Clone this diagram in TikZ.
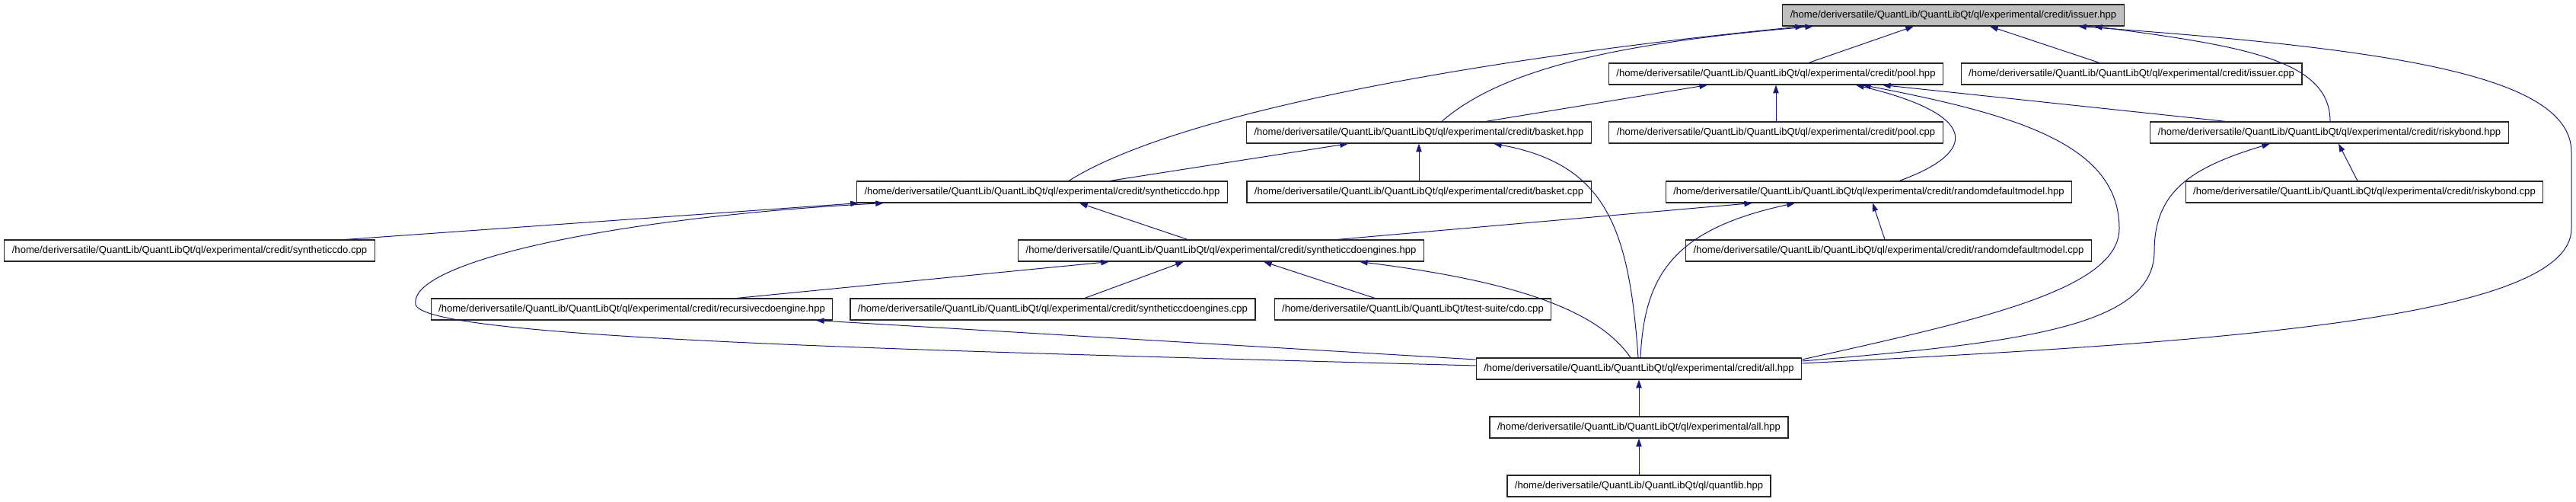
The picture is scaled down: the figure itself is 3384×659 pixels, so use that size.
\documentclass[tikz,border=0pt]{standalone}
\usepackage{fontspec}
\setmainfont{Liberation Sans}
\usepackage{tikz}
\usetikzlibrary{arrows.meta, calc}

\definecolor{edgeblue}{HTML}{191970}
\definecolor{curgray}{HTML}{BFBFBF}
\newcommand{\qlroot}{/home/deriversatile/QuantLib/QuantLibQt}
\newcommand{\credpath}{\qlroot/ql/experimental/credit}

\tikzset{
  filebox/.style = {rectangle, draw=black!85, line width=0.9pt, fill=white,
                    font=\fontsize{9.8pt}{11pt}\selectfont,
                    inner xsep=7.5pt, inner ysep=0pt, minimum height=21pt},
  curfile/.style = {filebox, fill=curgray},
  incl/.style    = {-{Triangle[length=8pt, width=5.5pt]}, draw=edgeblue,
                    line width=0.75pt},
}

\begin{document}
\begin{tikzpicture}[x=0.75pt, y=-0.75pt]
  \useasboundingbox (0,0) rectangle (3384,659);

  % files
  \node[curfile] (issuerh)   at (2566,20)  {\credpath/issuer.hpp};
  \node[filebox] (poolh)     at (2333,97)  {\credpath/pool.hpp};
  \node[filebox] (issuercpp) at (2800,97)  {\credpath/issuer.cpp};
  \node[filebox] (basketh)   at (1864,174) {\credpath/basket.hpp};
  \node[filebox] (poolcpp)   at (2333,174) {\credpath/pool.cpp};
  \node[filebox] (riskyh)    at (3060,174) {\credpath/riskybond.hpp};
  \node[filebox] (synthh)    at (1369,252) {\credpath/syntheticcdo.hpp};
  \node[filebox] (basketcpp) at (1864,252) {\credpath/basket.cpp};
  \node[filebox] (rdmh)      at (2455,252) {\credpath/randomdefaultmodel.hpp};
  \node[filebox] (riskycpp)  at (3106,252) {\credpath/riskybond.cpp};
  \node[filebox] (synthcpp)  at (249,329)  {\credpath/syntheticcdo.cpp};
  \node[filebox] (sceh)      at (1604,329) {\credpath/syntheticcdoengines.hpp};
  \node[filebox] (rdmcpp)    at (2481,329) {\credpath/randomdefaultmodel.cpp};
  \node[filebox] (rech)      at (830,406)  {\credpath/recursivecdoengine.hpp};
  \node[filebox] (scecpp)    at (1383,406) {\credpath/syntheticcdoengines.cpp};
  \node[filebox] (cdocpp)    at (1856,406) {\qlroot/test-suite/cdo.cpp};
  \node[filebox] (creditall) at (2153,484) {\credpath/all.hpp};
  \node[filebox] (expall)    at (2153,561) {\qlroot/ql/experimental/all.hpp};
  \node[filebox] (qlh)       at (2153,638) {\qlroot/ql/quantlib.hpp};

  % straight includes
  \draw[incl] ($(poolh.north)+(43,0)$) -- ($(issuerh.south)+(-52,0)$);
  \draw[incl] ($(issuercpp.north)+(-42,0)$) -- ($(issuerh.south)+(48,0)$);
  \draw[incl] (poolcpp) -- (poolh);
  \draw[incl] ($(basketh.north)+(88,0)$) -- ($(poolh.south)+(-90,0)$);
  \draw[incl] ($(riskyh.north)+(-136,0)$) -- ($(poolh.south)+(140,0)$);
  \draw[incl] ($(synthh.north)+(89,0)$) -- ($(basketh.south)+(-93,0)$);
  \draw[incl] (basketcpp) -- (basketh);
  \draw[incl] ($(riskycpp.north)+(-9,0)$) -- ($(riskyh.south)+(12,0)$);
  \draw[incl] ($(synthcpp.north)+(205,0)$) -- ($(synthh.south west)+(3,0)$);
  \draw[incl] ($(sceh.north)+(-44,0)$) -- ($(synthh.south)+(49,0)$);
  \draw[incl] ($(sceh.north)+(153,0)$) -- ($(rdmh.south)+(-153,0)$);
  \draw[incl] ($(rdmcpp.north)+(-5,0)$) -- ($(rdmh.south)+(5,0)$);
  \draw[incl] ($(rech.north)+(138,0)$) -- ($(sceh.south)+(-147,0)$);
  \draw[incl] ($(scecpp.north)+(42,0)$) -- ($(sceh.south)+(-49,0)$);
  \draw[incl] ($(cdocpp.north)+(-50,0)$) -- ($(sceh.south)+(56,0)$);
  \draw[incl] ($(creditall.west)+(0,-12)$) -- ($(rech.south)+(242,0)$);
  \draw[incl] (expall) -- (creditall);
  \draw[incl] (qlh) -- (expall);

  % curved includes
  \draw[incl] ($(basketh.north)+(30,0)$) .. controls +(86,-75) and +(-232,20)
    .. ($(issuerh.south)+(-184,0)$);
  \draw[incl] ($(synthh.north)+(35,0)$) .. controls +(156,-98) and +(-369,36)
    .. ($(issuerh.south)+(-197,0)$);
  \draw[incl] ($(riskyh.north)+(1,0)$) .. controls +(0,-80) and +(199,26)
    .. ($(issuerh.south)+(185,0)$);
  \draw[incl] ($(creditall.east)+(0,-7)$) .. controls +(533,-27) and +(0,120)
    .. (3378,300) -- (3378,200) .. controls +(0,-100) and +(420,30)
    .. ($(issuerh.south)+(164,0)$);
  \draw[incl] ($(creditall.east)+(0,-10)$) .. controls +(283,-24) and +(0,100)
    .. (2830,330) .. controls +(0,-80) and +(-102,31)
    .. ($(riskyh.south)+(-78,0)$);
  \draw[incl] ($(creditall.east)+(0,-12)$) .. controls +(233,-52) and +(0,80)
    .. (2784,300) .. controls +(0,-110) and +(203,39)
    .. ($(poolh.south)+(114,0)$);
  \draw[incl] ($(rdmh.north)+(40,0)$) .. controls +(105,-38) and +(162,39)
    .. ($(poolh.south)+(105,0)$);
  \draw[incl] ($(creditall.north)+(-1,0)$) .. controls +(-12,-170) and +(148,27)
    .. ($(basketh.south)+(98,0)$);
  \draw[incl] ($(creditall.north)+(2,0)$) .. controls +(5,-110) and +(-158,34)
    .. ($(rdmh.south)+(-97,0)$);
  \draw[incl] ($(creditall.north)+(-11,0)$) .. controls +(-42,-60) and +(214,27)
    .. ($(sceh.south)+(182,0)$);
  \draw[incl] ($(creditall.west)+(0,-4)$) .. controls +(-739,-20) and +(14,45)
    .. (546,400) .. controls +(-11,-55) and +(-360,19)
    .. ($(synthh.south west)+(36,0)$);
\end{tikzpicture}
\end{document}
